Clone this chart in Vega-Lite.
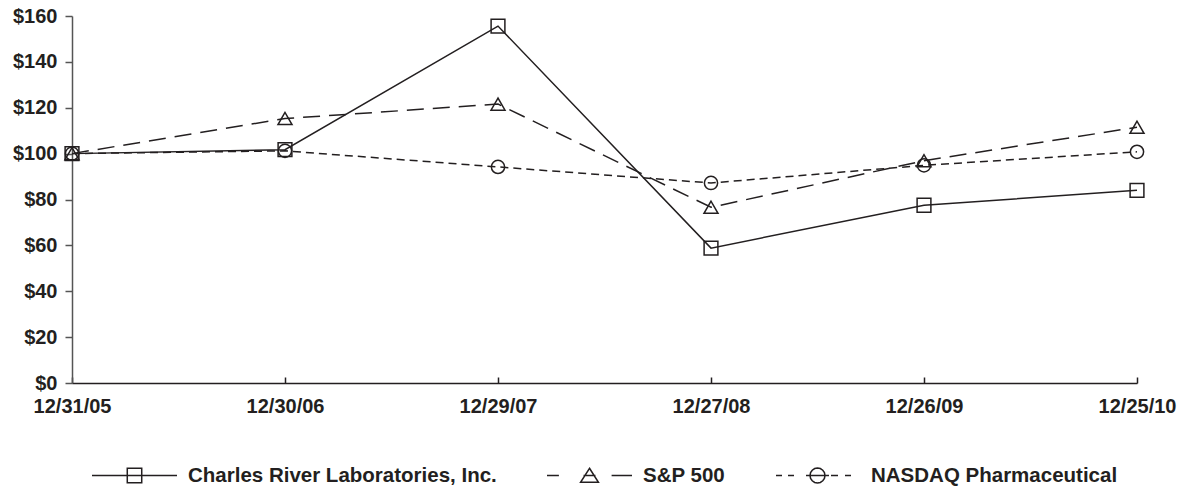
{
  "$schema": "https://vega.github.io/schema/vega-lite/v6.json",
  "width": 1065,
  "height": 367,
  "autosize": {"type": "none"},
  "padding": {"left": 72, "top": 16, "right": 49, "bottom": 103},
  "background": "white",
  "config": {"view": {"stroke": null}, "font": "Liberation Sans"},
  "data": {
    "values": [
      {"date": "12/31/05", "series": "Charles River Laboratories, Inc.", "value": 100},
      {"date": "12/30/06", "series": "Charles River Laboratories, Inc.", "value": 101.7},
      {"date": "12/29/07", "series": "Charles River Laboratories, Inc.", "value": 155.6},
      {"date": "12/27/08", "series": "Charles River Laboratories, Inc.", "value": 58.8},
      {"date": "12/26/09", "series": "Charles River Laboratories, Inc.", "value": 77.5},
      {"date": "12/25/10", "series": "Charles River Laboratories, Inc.", "value": 84.0},
      {"date": "12/31/05", "series": "S&P 500", "value": 100},
      {"date": "12/30/06", "series": "S&P 500", "value": 115.3},
      {"date": "12/29/07", "series": "S&P 500", "value": 121.6},
      {"date": "12/27/08", "series": "S&P 500", "value": 76.6},
      {"date": "12/26/09", "series": "S&P 500", "value": 96.9},
      {"date": "12/25/10", "series": "S&P 500", "value": 111.5},
      {"date": "12/31/05", "series": "NASDAQ Pharmaceutical", "value": 100},
      {"date": "12/30/06", "series": "NASDAQ Pharmaceutical", "value": 101.2},
      {"date": "12/29/07", "series": "NASDAQ Pharmaceutical", "value": 94.2},
      {"date": "12/27/08", "series": "NASDAQ Pharmaceutical", "value": 87.2},
      {"date": "12/26/09", "series": "NASDAQ Pharmaceutical", "value": 94.9},
      {"date": "12/25/10", "series": "NASDAQ Pharmaceutical", "value": 100.8}
    ]
  },
  "encoding": {
    "x": {
      "field": "date",
      "type": "ordinal",
      "scale": {"type": "point", "padding": 0, "domain": ["12/31/05", "12/30/06", "12/29/07", "12/27/08", "12/26/09", "12/25/10"]},
      "axis": {
        "title": null,
        "labelAngle": 0,
        "labelFontSize": 20,
        "labelFontWeight": "bold",
        "labelColor": "#231f20",
        "tickSize": -6,
        "tickColor": "#231f20",
        "tickWidth": 1.5,
        "domainColor": "#231f20",
        "domainWidth": 1.5,
        "labelPadding": 19,
        "grid": false
      }
    },
    "y": {
      "field": "value",
      "type": "quantitative",
      "scale": {"domain": [0, 160], "nice": false},
      "axis": {
        "title": null,
        "values": [0, 20, 40, 60, 80, 100, 120, 140, 160],
        "labelExpr": "'$' + datum.value",
        "labelFontSize": 20,
        "labelFontWeight": "bold",
        "labelColor": "#231f20",
        "tickSize": 7,
        "tickColor": "#555555",
        "tickWidth": 1.5,
        "domainColor": "#555555",
        "domainWidth": 1.5,
        "labelPadding": 8,
        "grid": false
      }
    },
    "color": {
      "field": "series",
      "type": "nominal",
      "scale": {"domain": ["Charles River Laboratories, Inc.", "S&P 500", "NASDAQ Pharmaceutical"], "range": ["#231f20", "#231f20", "#231f20"]},
      "legend": {
        "orient": "none",
        "legendX": 19,
        "legendY": 416,
        "direction": "horizontal",
        "title": null,
        "padding": 0,
        "symbolSize": 7225,
        "symbolStrokeWidth": 1.5,
        "labelFontSize": 20.5,
        "labelFontWeight": "bold",
        "labelColor": "#231f20",
        "labelOffset": 10,
        "labelLimit": 500,
        "columnPadding": 47,
        "encode": {
          "symbols": {
            "update": {
              "shape": {"signal": "datum.value === 'S&P 500' ? 'M-1,0H-0.72M-0.14,0H0.14M0.52,0H1M0,-0.17L0.21,0.16L-0.21,0.16Z' : datum.value === 'NASDAQ Pharmaceutical' ? 'M-0.976,0H-0.835M-0.694,0H-0.553M-0.27,0H0.27M0.318,0H0.482M0.647,0H0.788M0.176,0L0.163,0.067L0.124,0.124L0.067,0.163L0,0.176L-0.067,0.163L-0.124,0.124L-0.163,0.067L-0.176,0L-0.163,-0.067L-0.124,-0.124L-0.067,-0.163L0,-0.176L0.067,-0.163L0.124,-0.124L0.163,-0.067Z' : 'M-1,0H1M-0.17,-0.17H0.17V0.17H-0.17Z'"},
              "fill": {"value": "transparent"},
              "stroke": {"value": "#231f20"}
            }
          }
        }
      }
    }
  },
  "layer": [
    {
      "transform": [{"filter": "datum.series === 'Charles River Laboratories, Inc.'"}],
      "mark": {"type": "line", "strokeWidth": 1.5}
    },
    {
      "transform": [{"filter": "datum.series === 'S&P 500'"}],
      "mark": {"type": "line", "strokeWidth": 1.5, "strokeDash": [17, 9]}
    },
    {
      "transform": [{"filter": "datum.series === 'NASDAQ Pharmaceutical'"}],
      "mark": {"type": "line", "strokeWidth": 1.5, "strokeDash": [8, 5]}
    },
    {
      "transform": [{"filter": "datum.series === 'Charles River Laboratories, Inc.'"}],
      "mark": {"type": "point", "shape": "square", "filled": false, "strokeWidth": 1.5, "opacity": 1, "size": 190}
    },
    {
      "transform": [{"filter": "datum.series === 'S&P 500'"}],
      "mark": {"type": "point", "shape": "triangle-up", "filled": false, "strokeWidth": 1.5, "opacity": 1, "size": 196}
    },
    {
      "transform": [{"filter": "datum.series === 'NASDAQ Pharmaceutical'"}],
      "mark": {"type": "point", "shape": "circle", "filled": false, "strokeWidth": 1.5, "opacity": 1, "size": 175}
    }
  ]
}
